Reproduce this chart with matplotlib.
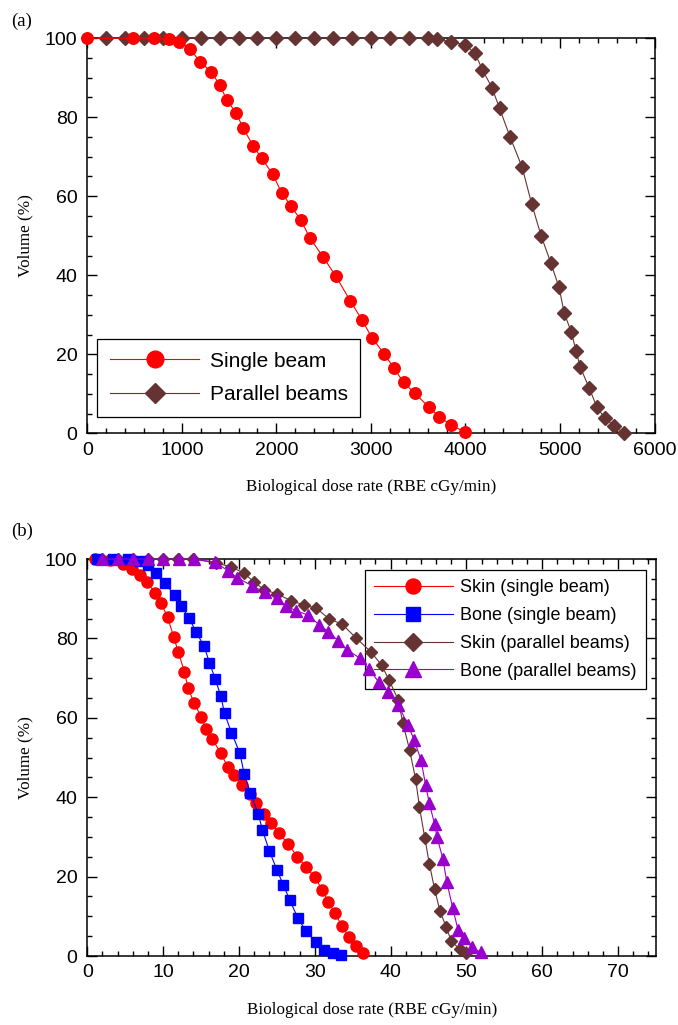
"""Dose-rate volume histograms: (a) single vs parallel beams, (b) skin/bone per setup."""
import matplotlib
matplotlib.use("Agg")
import matplotlib.pyplot as plt
from matplotlib.ticker import MultipleLocator

# ---- panel (a) ----
single_x = [0, 480, 700, 860, 975, 1090, 1190, 1310, 1400, 1475, 1575, 1650, 1755,
            1845, 1960, 2055, 2155, 2260, 2355, 2495, 2630, 2780, 2905, 3010, 3140,
            3240, 3345, 3465, 3610, 3720, 3850, 4000]
single_y = [100, 100, 100, 99.7, 99.1, 97.2, 94.1, 91.5, 88.2, 84.4, 81.0, 77.2, 72.7,
            69.6, 65.6, 60.9, 57.5, 53.9, 49.4, 44.6, 39.7, 33.6, 28.7, 24.2, 20.1,
            16.6, 12.9, 10.1, 6.7, 4.2, 2.1, 0.2]

parallel_x = [200, 400, 600, 800, 1000, 1200, 1400, 1600, 1800, 2000, 2200, 2400, 2600,
              2800, 3000, 3200, 3400, 3600, 3700, 3850, 4000, 4100, 4180, 4280, 4360,
              4470, 4600, 4700, 4800, 4905, 4990, 5045, 5120, 5170, 5215, 5310, 5390,
              5475, 5575, 5680]
parallel_y = [100, 100, 100, 100, 100, 100, 100, 100, 100, 100, 100, 100, 100,
              100, 100, 100, 100, 100, 99.7, 99.1, 98.3, 96.2, 92.0, 87.5, 82.3,
              75.1, 67.3, 58.1, 50.0, 43.0, 36.9, 30.4, 25.6, 20.8, 16.7, 11.4, 6.6,
              3.8, 1.8, 0.0]

# ---- panel (b) ----
skin_single_x = [1.0, 3.0, 4.75, 5.85, 6.9, 7.85, 8.9, 9.7, 10.6, 11.4, 12.0, 12.8, 13.3,
                 14.1, 15.0, 15.65, 16.5, 17.6, 18.5, 19.35, 20.4, 21.4, 22.3, 23.3,
                 24.2, 25.3, 26.5, 27.7, 28.8, 30.0, 31.0, 31.8, 32.6, 33.6, 34.5,
                 35.4, 36.4]
skin_single_y = [100, 99.8, 98.7, 97.4, 96.0, 94.3, 91.5, 89.0, 85.3, 80.3, 76.6, 71.6,
                 67.4, 63.7, 60.3, 57.3, 54.6, 51.1, 47.7, 45.6, 43.1, 40.8, 38.5, 35.9,
                 33.6, 30.9, 28.2, 25.0, 22.5, 19.8, 16.6, 13.7, 10.8, 7.6, 4.7, 2.5, 0.8]

bone_single_x = [1.3, 3.4, 5.4, 6.95, 8.05, 9.05, 10.25, 11.5, 12.35, 13.45, 14.3, 15.4,
                 16.1, 16.85, 17.6, 18.1, 19.0, 20.1, 20.7, 21.5, 22.55, 23.1, 24.0,
                 25.0, 25.85, 26.7, 27.75, 28.8, 30.1, 31.2, 32.4, 33.5]
bone_single_y = [100, 100, 100, 99.6, 98.5, 96.4, 93.9, 90.9, 88.2, 85.1, 81.7, 78.1,
                 73.9, 69.9, 65.5, 61.1, 56.3, 51.2, 45.8, 41.1, 35.7, 31.7, 26.5,
                 21.7, 17.9, 14.1, 9.6, 6.4, 3.6, 1.5, 0.7, 0.25]

skin_parallel_x = [2, 4, 6, 8, 10, 12, 14, 17.0, 19.0, 20.6, 22.0, 23.3, 25.0, 26.9,
                   28.6, 30.2, 31.9, 33.6, 35.4, 37.4, 38.8, 39.8, 41.0, 41.6, 42.5,
                   43.3, 43.8, 44.5, 45.1, 45.8, 46.5, 47.3, 48.0, 49.1, 49.9]
skin_parallel_y = [100, 100, 100, 100, 100, 100, 100, 99.0, 98.0, 96.5, 94.2, 92.3,
                   91.2, 89.5, 88.4, 87.6, 84.9, 83.6, 80.2, 76.6, 73.3, 69.5, 64.5,
                   58.8, 51.9, 44.5, 37.5, 29.8, 23.3, 16.8, 11.4, 7.4, 3.8, 1.7, 0.7]

bone_parallel_x = [1.9, 4.0, 6.0, 8.05, 10.0, 12.1, 14.1, 16.9, 18.5, 19.75, 21.7, 23.4,
                   25.0, 26.2, 27.5, 29.1, 30.6, 31.8, 33.1, 34.2, 35.9, 37.1, 38.4,
                   39.7, 41.0, 42.3, 43.1, 44.0, 44.6, 45.1, 45.8, 46.1, 46.9, 47.4,
                   48.2, 48.9, 49.7, 50.7, 51.9]
bone_parallel_y = [100, 100, 100, 100, 100, 100, 100, 99.2, 97.1, 95.3, 93.3, 91.6,
                   90.1, 88.2, 87.0, 85.9, 83.4, 81.7, 79.4, 77.2, 75.1, 72.4, 69.1,
                   66.6, 63.2, 58.2, 54.4, 49.4, 43.2, 38.5, 33.2, 30.1, 24.4, 18.7,
                   12.0, 6.5, 4.5, 2.2, 0.9]

RED = "#ff0000"
BROWN = "#663333"
BLUE = "#0000ff"
PURPLE = "#9900cc"

SANS = "Liberation Sans"
SERIF = "Liberation Serif"


def style_axes(ax, xmax, xmajor, xminor):
    ax.set_xlim(0, xmax)
    ax.set_ylim(0, 100)
    ax.xaxis.set_major_locator(MultipleLocator(xmajor))
    ax.xaxis.set_minor_locator(MultipleLocator(xminor))
    ax.yaxis.set_major_locator(MultipleLocator(20))
    ax.yaxis.set_minor_locator(MultipleLocator(5))
    ax.tick_params(which="both", direction="in", top=True, right=True,
                   labelsize=14, width=1.0)
    ax.tick_params(axis="y", pad=7)
    ax.tick_params(axis="x", pad=6)
    ax.tick_params(which="major", length=7)
    ax.tick_params(which="minor", length=3.5)
    for lab in ax.get_xticklabels() + ax.get_yticklabels():
        lab.set_family(SANS)
    for sp in ax.spines.values():
        sp.set_linewidth(1.1)
    ax.set_xlabel("Biological dose rate (RBE cGy/min)", family=SERIF, fontsize=12.3,
                  labelpad=15)
    ax.set_ylabel("Volume (%)", family=SERIF, fontsize=12.3, labelpad=8)


fig = plt.figure(figsize=(6.78, 10.25), dpi=100)

# (a)
ax1 = fig.add_axes([0.1288, 0.5773, 0.8366, 0.3854])
ax1.plot(single_x, single_y, color=RED, lw=0.8, marker="o", ms=8.3, mec=RED,
         clip_on=False, zorder=4, label="Single beam")
ax1.plot(parallel_x, parallel_y, color=BROWN, lw=0.8, marker="D", ms=6.8, mec=BROWN,
         clip_on=False, zorder=3, label="Parallel beams")
style_axes(ax1, 6000, 1000, 200)
leg1 = ax1.legend(loc="lower left", bbox_to_anchor=(0.0176, 0.042), borderaxespad=0,
                  markerscale=1.45, frameon=True, fancybox=False, framealpha=1,
                  edgecolor="black", handlelength=4.3, borderpad=0.6,
                  labelspacing=0.7, handletextpad=0.5,
                  prop={"family": SANS, "size": 15})
leg1.get_frame().set_linewidth(0.9)
leg1.set_zorder(1)
fig.text(0.017, 0.988, "(a)", family=SERIF, fontsize=13.5, va="top", ha="left")

# (b)
ax2 = fig.add_axes([0.1288, 0.0673, 0.8388, 0.3873])
ax2.plot(skin_single_x, skin_single_y, color=RED, lw=0.8, marker="o", ms=8,
         mec=RED, clip_on=False, zorder=3, label="Skin (single beam)")
ax2.plot(bone_single_x, bone_single_y, color=BLUE, lw=0.8, marker="s", ms=7.8,
         mec=BLUE, clip_on=False, zorder=4, label="Bone (single beam)")
ax2.plot(skin_parallel_x, skin_parallel_y, color=BROWN, lw=0.8, marker="D", ms=6.6,
         mec=BROWN, clip_on=False, zorder=3, label="Skin (parallel beams)")
ax2.plot(bone_parallel_x, bone_parallel_y, color=PURPLE, lw=0.8, marker="^", ms=9,
         mec=PURPLE, clip_on=False, zorder=4, label="Bone (parallel beams)")
style_axes(ax2, 75, 10, 2)
leg2 = ax2.legend(loc="upper right", bbox_to_anchor=(0.982, 0.972), borderaxespad=0,
                  markerscale=1.35, frameon=True, fancybox=False, framealpha=1,
                  edgecolor="black", handlelength=4.4, borderpad=0.5,
                  labelspacing=0.6, handletextpad=0.4,
                  prop={"family": SANS, "size": 13})
leg2.get_frame().set_linewidth(0.9)
leg2.set_zorder(1)
fig.text(0.017, 0.49, "(b)", family=SERIF, fontsize=13.5, va="top", ha="left")

fig.savefig("out.png", dpi=100)
